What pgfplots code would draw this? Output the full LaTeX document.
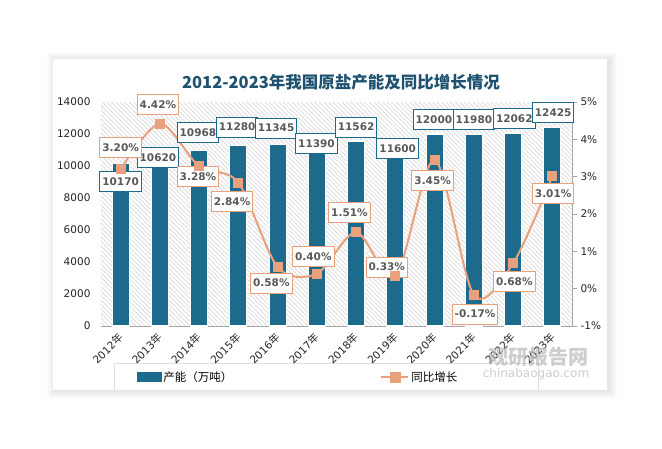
\documentclass[border=0pt]{standalone}
\usepackage{pgfplots}
\pgfplotsset{compat=1.18}
\usepackage{fontspec}
\setmainfont{DejaVu Sans}
\newfontfamily\cjk{Noto Sans CJK SC}
\usetikzlibrary{patterns.meta}
\definecolor{barc}{RGB}{28,107,141}
\definecolor{sal}{RGB}{233,160,124}
\definecolor{ttl}{RGB}{30,82,112}
\definecolor{lbl}{RGB}{89,89,89}

\begin{document}
\begin{tikzpicture}[
  capbox/.style={draw=barc, line width=1pt, fill=white, text=lbl,
    font=\bfseries\fontsize{10.5}{12}\selectfont, inner xsep=2.5pt, inner ysep=0pt, minimum height=20pt},
  growbox/.style={capbox, draw=sal}]
\useasboundingbox (0,0) rectangle (662pt,448pt);
\begin{scope}[x=1pt,y=1pt]
  \fill[white] (0,0) rectangle (662,448);
  \foreach \k in {1,...,8}{
    \fill[black,opacity=0.01] (53-\k+2,58-\k-1) rectangle (607+\k+2,389+\k-1);}
  \fill[white] (53,58) rectangle (607,389);
  \draw[gray!25, line width=0.8pt] (114,58) -- (114,85) -- (538,85) -- (538,58);
\end{scope}
\node[font=\cjk\bfseries\fontsize{16.5}{18}\selectfont, text=ttl] at (341pt,366pt)
  {2012-2023年我国原盐产能及同比增长情况};

\begin{axis}[
  at={(101pt,122pt)}, anchor=south west,
  scale only axis, width=471pt, height=224pt,
  xmin=-0.5, xmax=11.5, ymin=0, ymax=14000,
  axis x line*=bottom, axis y line*=left,
  y axis line style={draw=none},
  x axis line style={draw=gray!70, line width=0.8pt},
  tick style={draw=none},
  scaled y ticks=false,
  ytick={0,2000,4000,6000,8000,10000,12000,14000},
  yticklabels={0,2000,4000,6000,8000,10000,12000,14000},
  yticklabel style={xshift=-7pt},
  xtick={0,...,11},
  xticklabels={2012{\cjk 年},2013{\cjk 年},2014{\cjk 年},2015{\cjk 年},2016{\cjk 年},2017{\cjk 年},
    2018{\cjk 年},2019{\cjk 年},2020{\cjk 年},2021{\cjk 年},2022{\cjk 年},2023{\cjk 年}},
  xticklabel style={rotate=45, anchor=east, yshift=-4pt},
  ticklabel style={font=\fontsize{10.5}{12}\selectfont, text=black!85},
  axis background/.style={pattern={Lines[angle=-45,distance=3.2pt,line width=0.7pt]}, pattern color=gray!30},
  ybar, bar width=17pt,
]
\addplot[fill=barc, draw=white, line width=1.2pt] coordinates {
  (0,10170) (1,10620) (2,10968) (3,11280) (4,11345) (5,11390)
  (6,11562) (7,11600) (8,12000) (9,11980) (10,12062) (11,12425)};
\end{axis}

\begin{axis}[
  at={(101pt,122pt)}, anchor=south west,
  scale only axis, width=471pt, height=224pt,
  xmin=-0.5, xmax=11.5, ymin=-1, ymax=5,
  axis x line=none, axis y line*=right,
  y axis line style={draw=gray!70, line width=0.8pt},
  ytick={-1,0,1,2,3,4,5},
  yticklabels={-1\%,0\%,1\%,2\%,3\%,4\%,5\%},
  ytick style={draw=gray!70, line width=0.8pt},
  tick align=outside, major tick length=5pt,
  ticklabel style={font=\fontsize{10.5}{12}\selectfont, text=black!85},
  clip=false,
  legend style={at={(0.076,-0.2277)}, anchor=west, draw=none, fill=none,
    legend columns=2, inner sep=0pt, font=\cjk\fontsize{11.5}{13}\selectfont,
    /tikz/every even column/.append style={column sep=146pt}},
  legend cell align=left,
]
\addplot[sal, line width=2pt, smooth, mark=square*, mark size=4pt, forget plot] coordinates {
  (0,3.20) (1,4.42) (2,3.28) (3,2.84) (4,0.58) (5,0.40)
  (6,1.51) (7,0.33) (8,3.45) (9,-0.17) (10,0.68) (11,3.01)};
\addlegendimage{legend image code/.code={\fill[barc] (0pt,-4.5pt) rectangle (24pt,4.5pt);}}
\addlegendentry{产能（万吨）}
\addlegendimage{legend image code/.code={\draw[sal,line width=2pt] (0pt,0pt) -- (27pt,0pt);
  \fill[sal] (8.5pt,-5pt) rectangle (18.5pt,5pt);}}
\addlegendentry{同比增长}

\node[capbox] at (axis cs:0,2.87) {10170};
\node[capbox] at (axis cs:0.95,3.51) {10620};
\node[capbox] at (axis cs:1.97,4.17) {10968};
\node[capbox] at (axis cs:2.97,4.33) {11280};
\node[capbox] at (axis cs:3.96,4.30) {11345};
\node[capbox] at (axis cs:4.99,3.88) {11390};
\node[capbox] at (axis cs:6.0,4.33) {11562};
\node[capbox] at (axis cs:7.06,3.75) {11600};
\node[capbox] at (axis cs:7.98,4.54) {12000};
\node[capbox] at (axis cs:9.0,4.53) {11980};
\node[capbox] at (axis cs:10.03,4.56) {12062};
\node[capbox] at (axis cs:11.02,4.71) {12425};

\node[growbox] at (axis cs:0,3.79) {3.20\%};
\node[growbox] at (axis cs:0.95,4.92) {4.42\%};
\node[growbox] at (axis cs:1.97,3.00) {3.28\%};
\node[growbox] at (axis cs:2.84,2.33) {2.84\%};
\node[growbox] at (axis cs:3.84,0.15) {0.58\%};
\node[growbox] at (axis cs:4.91,0.85) {0.40\%};
\node[growbox] at (axis cs:5.83,2.03) {1.51\%};
\node[growbox] at (axis cs:6.78,0.58) {0.33\%};
\node[growbox] at (axis cs:7.95,2.90) {3.45\%};
\node[growbox] at (axis cs:9.03,-0.68) {-0.17\%};
\node[growbox] at (axis cs:10.03,0.18) {0.68\%};
\node[growbox] at (axis cs:11.02,2.54) {3.01\%};
\end{axis}

\node[text=gray!55, opacity=0.7, font=\cjk\bfseries\fontsize{20}{22}\selectfont] at (538pt,91pt) {观研报告网};
\node[text=gray!55, opacity=0.7, font=\fontsize{12}{13}\selectfont] at (536pt,74pt) {chinabaogao.com};
\end{tikzpicture}
\end{document}
